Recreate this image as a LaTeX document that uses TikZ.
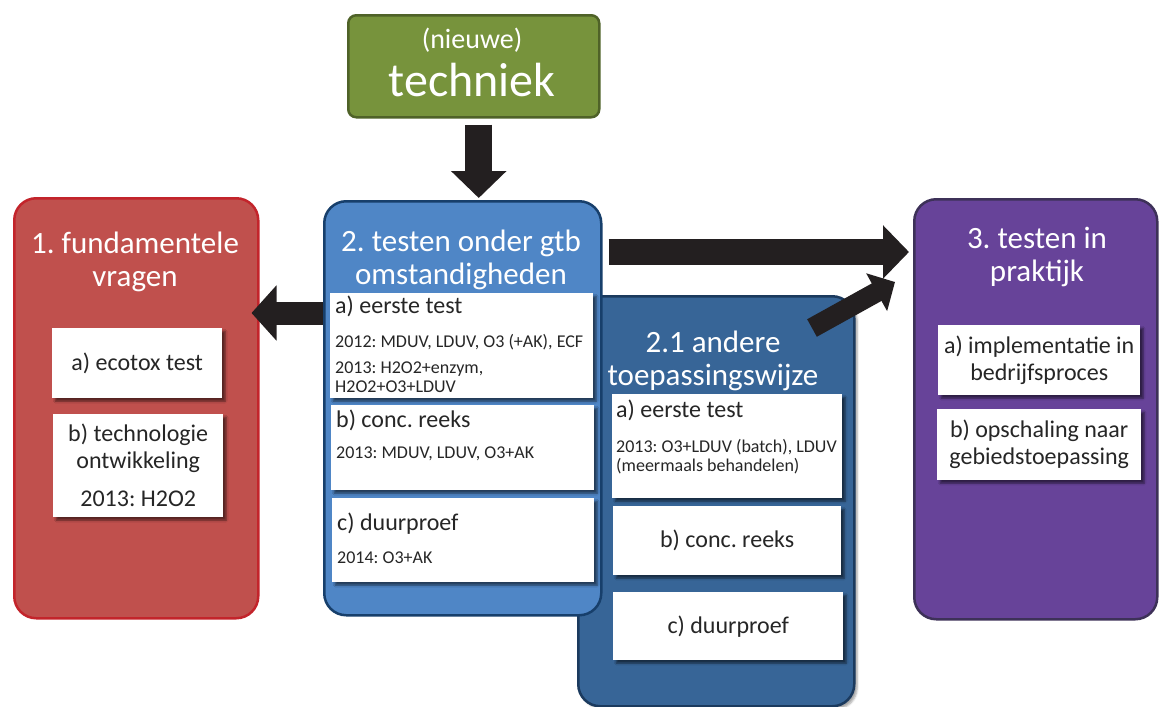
\documentclass[tikz,border=0pt]{standalone}
\usepackage{fontspec}
\setmainfont{Carlito}
\usetikzlibrary{arrows.meta,shadows,shadows.blur}

\definecolor{techgreen}{HTML}{77933C}
\definecolor{techline}{HTML}{4F6228}
\definecolor{fundred}{HTML}{C0504D}
\definecolor{fundline}{HTML}{C3242B}
\definecolor{gtbblue}{HTML}{4F86C6}
\definecolor{gtbline}{HTML}{173F6B}
\definecolor{altblue}{HTML}{376597}
\definecolor{altline}{HTML}{1B3A5E}
\definecolor{praktpurple}{HTML}{674399}
\definecolor{praktline}{HTML}{3D3158}
\definecolor{arrowc}{HTML}{231F20}
\definecolor{ink}{HTML}{262626}

\frenchspacing
\begin{document}
\begin{tikzpicture}[x=1pt,y=-1pt]
  \tikzstyle{stage}=[anchor=north west,rounded corners=22pt,line width=2.5pt,inner sep=0pt]
  \tikzstyle{card}=[anchor=north west,fill=white,inner sep=0pt,blur shadow={shadow xshift=3pt,shadow yshift=-3pt,shadow blur steps=6,shadow opacity=55}]
  \tikzstyle{title}=[text=white,align=center,inner sep=0pt,font=\fontsize{31}{33}\selectfont]
  \tikzstyle{head}=[text=ink,align=center,inner sep=0pt,font=\fontsize{24}{27}\selectfont]
  \tikzstyle{note}=[text=ink,align=left,anchor=base west,inner sep=0pt,font=\fontsize{18}{18.5}\selectfont]
  \tikzstyle{bigarrow}=[draw=arrowc]

  \useasboundingbox (0,0) rectangle (1160,707);

  % main blocks
  \node[stage,rounded corners=8pt,fill=techgreen,draw=techline,minimum width=251pt,minimum height=102pt] (tech) at (347,14) {};
  \node[stage,fill=fundred,draw=fundline,minimum width=244pt,minimum height=420pt] (box1) at (13,197) {};
  \node[stage,fill=altblue,draw=altline,minimum width=276pt,minimum height=410pt,blur shadow={shadow xshift=3pt,shadow yshift=-3pt,shadow opacity=35}] (box21) at (577,295) {};
  \node[stage,fill=gtbblue,draw=gtbline,minimum width=277pt,minimum height=414pt] (box2) at (323,200) {};
  \node[stage,fill=praktpurple,draw=praktline,minimum width=243pt,minimum height=420pt] (box3) at (913,198) {};

  % titles
  \node[title,font=\fontsize{28}{30}\selectfont] (t-nieuw) at (472,40) {(nieuwe)};
  \node[title,font=\fontsize{48}{52}\selectfont] (t-tech) at (472,80) {techniek};
  \node[title] (t-1) at (135,262) {1. fundamentele\\vragen};
  \node[title] (t-2) at (461,260) {2. testen onder gtb\\omstandigheden};
  \node[title] (t-21) at (713,361) {2.1 andere\\toepassingswijze};
  \node[title] (t-3) at (1037,257) {3. testen in\\praktijk};

  % cards of block 1
  \node[card,minimum width=170pt,minimum height=70pt] (c1a) at (52,328) {};
  \node[head] (h1a) at (c1a.center) {a) ecotox test};
  \node[card,minimum width=170pt,minimum height=103pt] (c1b) at (53,414) {};
  \node[head] (h1b) at (c1b.center) {b) technologie\\ontwikkeling\\[11pt]2013: H2O2};

  % cards of block 2
  \node[card,minimum width=263pt,minimum height=105pt] (c2a) at (330,293) {};
  \node[card,minimum width=263pt,minimum height=85pt] (c2b) at (331,405) {};
  \node[card,minimum width=262pt,minimum height=84pt] (c2c) at (332,498) {};
  \node[head,anchor=base west] (h2a) at (335,313) {a) eerste test};
  \node[note] (n2a1) at (335,347) {2012: MDUV, LDUV, O3 (+AK), ECF};
  \node[note] (n2a2) at (335,392) {2013: H2O2+enzym,\\H2O2+O3+LDUV};
  \node[head,anchor=base west] (h2b) at (336,427) {b) conc. reeks};
  \node[note] (n2b) at (336,458) {2013: MDUV, LDUV, O3+AK};
  \node[head,anchor=base west] (h2c) at (337,530) {c) duurproef};
  \node[note] (n2c) at (337,563) {2014: O3+AK};

  % cards of block 2.1
  \node[card,minimum width=230pt,minimum height=104pt] (c21a) at (612,394) {};
  \node[head,anchor=base west] (h21a) at (616,417) {a) eerste test};
  \node[note] (n21a) at (616,471) {2013: O3+LDUV (batch), LDUV\\(meermaals behandelen)};
  \node[card,minimum width=228pt,minimum height=69pt] (c21b) at (613,506) {};
  \node[head] (h21b) at (c21b.center) {b) conc. reeks};
  \node[card,minimum width=230pt,minimum height=68pt] (c21c) at (613,592) {};
  \node[head] (h21c) at (c21c.center) {c) duurproef};

  % cards of block 3
  \node[card,minimum width=202pt,minimum height=70pt] (c3a) at (938,325) {};
  \node[head] (h3a) at (c3a.center) {a) implementatie in\\bedrijfsproces};
  \node[card,minimum width=204pt,minimum height=71pt] (c3b) at (937,409) {};
  \node[head] (h3b) at (c3b.center) {b) opschaling naar\\gebiedstoepassing};

  % arrows
  \coordinate (d-from) at (812,328);
  \coordinate (d-to) at (895,282);
  \draw[bigarrow,line width=27pt,-{Triangle[width=54pt,length=27pt]}] ([xshift=5pt,yshift=-6pt]tech.south) -- ([xshift=5pt,yshift=2pt]tech.south |- box2.north);
  \draw[bigarrow,line width=23pt,-{Triangle[width=54pt,length=25pt]}] (box2.west |- 0,313) -- ([xshift=-8pt]box1.east |- 0,313);
  \draw[bigarrow,line width=26pt,-{Triangle[width=52pt,length=26pt]}] ([xshift=6pt]box2.east |- 0,252) -- ([xshift=-4pt]box3.west |- 0,252);
  \draw[bigarrow,line width=20pt,-{Triangle[width=42pt,length=21pt]}] (d-from) -- (d-to);
\end{tikzpicture}
\end{document}
